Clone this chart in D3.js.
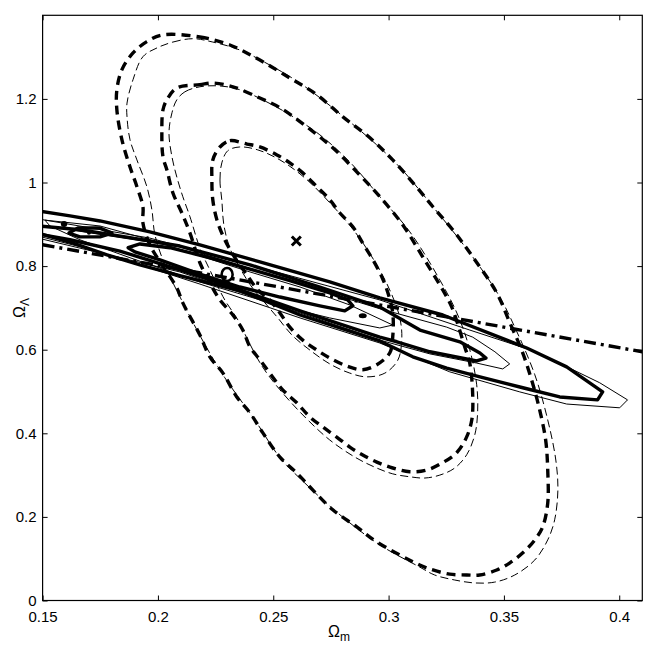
<!DOCTYPE html>
<html><head><meta charset="utf-8">
<script src="https://cdn.jsdelivr.net/npm/d3@7"></script>
<style>body{margin:0;background:#fff}svg{display:block}text{font-family:"Liberation Sans",Arial,Helvetica,sans-serif}</style>
</head><body><svg id="c" width="648" height="648"></svg>
<script>
// ---- data (Omega_m, Omega_Lambda) ----
const xTicks = [0.15, 0.2, 0.25, 0.3, 0.35, 0.4];
const yTicks = [0, 0.2, 0.4, 0.6, 0.8, 1, 1.2];
const xTickLabels = ["0.15","0.2","0.25","0.3","0.35","0.4"];
const yTickLabels = ["0","0.2","0.4","0.6","0.8","1","1.2"];

// dashed contours (thick)
const dashOuterThick = [[0.202,1.353],[0.2182,1.348],[0.2312,1.329],[0.2442,1.293],[0.2572,1.250],[0.2689,1.210],[0.2802,1.157],[0.2919,1.107],[0.3018,1.054],[0.3114,0.994],[0.3192,0.942],[0.3278,0.887],[0.3365,0.822],[0.3469,0.736],[0.3526,0.664],[0.3577,0.599],[0.3620,0.528],[0.3655,0.456],[0.3681,0.384],[0.3690,0.312],[0.3690,0.233],[0.3668,0.176],[0.3634,0.145],[0.3582,0.114],[0.3526,0.090],[0.3469,0.073],[0.3395,0.061],[0.3339,0.061],[0.3265,0.063],[0.3192,0.073],[0.3135,0.085],[0.2949,0.140],[0.2862,0.176],[0.2758,0.217],[0.2672,0.264],[0.2602,0.305],[0.2529,0.343],[0.2455,0.401],[0.2399,0.449],[0.2342,0.487],[0.2282,0.544],[0.2225,0.583],[0.2182,0.635],[0.2108,0.712],[0.2082,0.748],[0.2009,0.810],[0.1965,0.851],[0.1935,0.903],[0.1935,0.942],[0.1909,0.990],[0.1879,1.037],[0.1844,1.102],[0.1822,1.174],[0.1822,1.222],[0.1844,1.270],[0.1892,1.310],[0.1952,1.337]];
const dashMidThick = [[0.2082,1.226],[0.2182,1.234],[0.2238,1.238],[0.2325,1.229],[0.2442,1.202],[0.2529,1.179],[0.2646,1.133],[0.2758,1.083],[0.2875,1.018],[0.2962,0.966],[0.3061,0.899],[0.3148,0.822],[0.3235,0.743],[0.3274,0.702],[0.3308,0.647],[0.3330,0.607],[0.3352,0.568],[0.3365,0.487],[0.3361,0.433],[0.3339,0.392],[0.3296,0.354],[0.3235,0.330],[0.3165,0.312],[0.3092,0.308],[0.3018,0.317],[0.2949,0.331],[0.2888,0.348],[0.2832,0.367],[0.2775,0.391],[0.2715,0.415],[0.2659,0.439],[0.2602,0.473],[0.2541,0.504],[0.2485,0.544],[0.2442,0.576],[0.2399,0.607],[0.2368,0.647],[0.2325,0.683],[0.2269,0.719],[0.2225,0.760],[0.2182,0.808],[0.2139,0.879],[0.2104,0.927],[0.2065,0.975],[0.2039,1.030],[0.2022,1.061],[0.2017,1.119],[0.2022,1.174],[0.2039,1.198]];
const dashInnerThick = [[0.2269,1.085],[0.2312,1.100],[0.2386,1.092],[0.2442,1.085],[0.2516,1.066],[0.2572,1.047],[0.2628,1.023],[0.2689,0.990],[0.2746,0.958],[0.2789,0.927],[0.2845,0.894],[0.2888,0.855],[0.2932,0.815],[0.2971,0.774],[0.2997,0.736],[0.3018,0.688],[0.3018,0.631],[0.3005,0.592],[0.2949,0.564],[0.2888,0.552],[0.2819,0.561],[0.2746,0.580],[0.2689,0.599],[0.2628,0.623],[0.2572,0.654],[0.2529,0.688],[0.2485,0.719],[0.2433,0.743],[0.2386,0.779],[0.2334,0.820],[0.2290,0.863],[0.2256,0.910],[0.2238,0.958],[0.2234,1.006],[0.2238,1.054]];
// dashed contours (thin)
const dashOuterThin = [[0.1996,1.322],[0.2065,1.336],[0.2152,1.344],[0.2238,1.336],[0.2355,1.317],[0.2485,1.281],[0.2615,1.238],[0.2810,1.155],[0.3027,1.049],[0.3200,0.937],[0.3374,0.815],[0.3482,0.726],[0.3547,0.654],[0.3634,0.540],[0.3690,0.432],[0.3725,0.336],[0.3734,0.265],[0.3720,0.193],[0.3690,0.145],[0.3634,0.097],[0.3547,0.061],[0.3460,0.044],[0.3374,0.042],[0.3287,0.049],[0.3200,0.061],[0.3135,0.080],[0.2962,0.133],[0.2789,0.205],[0.2637,0.281],[0.2529,0.342],[0.2420,0.432],[0.2290,0.533],[0.2204,0.612],[0.2117,0.703],[0.2030,0.803],[0.1987,0.875],[0.1974,0.934],[0.1952,0.990],[0.1909,1.054],[0.1879,1.102],[0.1866,1.157],[0.1866,1.190],[0.1892,1.246],[0.1935,1.301]];
const dashMidThin = [[0.2082,1.198],[0.2117,1.217],[0.2182,1.229],[0.2269,1.231],[0.2355,1.222],[0.2464,1.195],[0.2572,1.162],[0.2702,1.114],[0.2832,1.049],[0.2962,0.966],[0.3092,0.882],[0.3222,0.767],[0.3300,0.683],[0.3352,0.600],[0.3382,0.516],[0.3386,0.450],[0.3374,0.397],[0.3339,0.349],[0.3287,0.317],[0.3222,0.300],[0.3157,0.293],[0.3092,0.296],[0.3018,0.303],[0.2940,0.319],[0.2854,0.343],[0.2745,0.384],[0.2637,0.439],[0.2529,0.504],[0.2451,0.561],[0.2390,0.623],[0.2347,0.671],[0.2290,0.719],[0.2225,0.791],[0.2182,0.843],[0.2139,0.918],[0.2108,0.966],[0.2082,1.013],[0.2061,1.061],[0.2048,1.119],[0.2061,1.167]];
const dashInnerThin = [[0.2277,0.958],[0.2269,1.006],[0.2277,1.047],[0.2303,1.076],[0.2355,1.085],[0.2433,1.078],[0.2529,1.054],[0.2637,1.011],[0.2746,0.951],[0.2854,0.882],[0.2941,0.810],[0.3005,0.743],[0.3049,0.676],[0.3057,0.623],[0.3040,0.575],[0.2984,0.544],[0.2906,0.535],[0.2832,0.544],[0.2745,0.566],[0.2659,0.599],[0.2581,0.635],[0.2520,0.676],[0.2464,0.712],[0.2407,0.750],[0.2355,0.796],[0.2312,0.843],[0.2286,0.898]];

// solid degeneracy contours (thick)
const solidOuterThick = [[0.1480,0.932],[0.1619,0.920],[0.1749,0.908],[0.1965,0.882],[0.2182,0.851],[0.2442,0.810],[0.2745,0.762],[0.2962,0.724],[0.3235,0.683],[0.3599,0.604],[0.3772,0.559],[0.3928,0.499],[0.3906,0.480],[0.3742,0.487],[0.3582,0.509],[0.3396,0.535],[0.3252,0.556],[0.3105,0.583],[0.2962,0.621],[0.2616,0.683],[0.2356,0.741],[0.2095,0.777],[0.1922,0.803],[0.1779,0.827],[0.1632,0.855],[0.1480,0.879]];
const solidMidThick = [[0.1480,0.896],[0.1662,0.887],[0.1879,0.868],[0.2095,0.848],[0.2399,0.803],[0.2702,0.750],[0.2962,0.702],[0.3136,0.647],[0.3309,0.619],[0.3396,0.592],[0.3422,0.580],[0.3382,0.573],[0.3179,0.595],[0.3036,0.619],[0.2962,0.630],[0.2616,0.693],[0.2356,0.743],[0.2095,0.791],[0.1835,0.836],[0.1619,0.863],[0.1480,0.877]];
const solidInnerThick = [[0.1871,0.844],[0.1922,0.853],[0.2052,0.844],[0.2226,0.820],[0.2399,0.793],[0.2572,0.765],[0.2745,0.736],[0.2823,0.719],[0.2845,0.705],[0.2810,0.693],[0.2702,0.705],[0.2529,0.726],[0.2355,0.750],[0.2182,0.781],[0.2009,0.815],[0.1900,0.834]];
const solidIslandThick = [[0.1614,0.879],[0.1653,0.891],[0.1749,0.891],[0.1801,0.879],[0.1749,0.870],[0.1662,0.870]];
// solid degeneracy contours (thin)
const solidOuterThin = [[0.1480,0.913],[0.1965,0.867],[0.2399,0.803],[0.2962,0.719],[0.3352,0.647],[0.3612,0.600],[0.3755,0.564],[0.3915,0.521],[0.4036,0.480],[0.4002,0.461],[0.3772,0.470],[0.3569,0.499],[0.3265,0.547],[0.2962,0.616],[0.2616,0.676],[0.2182,0.757],[0.1749,0.834],[0.1480,0.872]];
const solidMidThin = [[0.1480,0.899],[0.2095,0.846],[0.2962,0.698],[0.3252,0.654],[0.3365,0.630],[0.3461,0.595],[0.3525,0.566],[0.3495,0.554],[0.3382,0.568],[0.3179,0.590],[0.2962,0.623],[0.2095,0.786],[0.1480,0.867]];
const solidInnerThin = [[0.1510,0.910],[0.1749,0.896],[0.1965,0.863],[0.2399,0.786],[0.2616,0.750],[0.2832,0.707],[0.3018,0.659],[0.2962,0.652],[0.2745,0.676],[0.2529,0.705],[0.2182,0.762],[0.1879,0.820],[0.1662,0.863],[0.1532,0.896]];
// small filled islands
const dots = [[0.1593,0.901,3.2,3],[0.1701,0.879,2,1.6],[0.2888,0.681,4,2.5]];

// dash-dot line
const dashDotLine = [[0.15,0.851],[0.41,0.595]];
// markers
const crossPoint = [0.26, 0.86];
const circlePoint = [0.23, 0.78];

// ---- drawing ----
const L = 42.6, R = 642.3, T = 15.3, B = 600.5;
const svg = d3.select("#c");
const x = d3.scaleLinear().domain([0.15, 0.41]).range([L, R]);
const y = d3.scaleLinear().domain([0, 1.4]).range([B, T]);

svg.append("defs").append("clipPath").attr("id","clip")
  .append("rect").attr("x",L).attr("y",T).attr("width",R-L).attr("height",B-T);
const g = svg.append("g").attr("clip-path","url(#clip)");

const smooth = d3.line().x(d=>x(d[0])).y(d=>y(d[1])).curve(d3.curveCatmullRomClosed.alpha(0.5));
const poly = d3.line().x(d=>x(d[0])).y(d=>y(d[1])).curve(d3.curveLinearClosed);
const straight = d3.line().x(d=>x(d[0])).y(d=>y(d[1]));

function draw(data, gen, w, dash){
  g.append("path").attr("d", gen(data)).attr("fill","none").attr("stroke","#000")
   .attr("stroke-width", w).attr("stroke-linejoin","round").attr("stroke-dasharray", dash||null);
}
// thin dashed
[dashOuterThin, dashMidThin, dashInnerThin].forEach(d=>draw(d, smooth, 1, "8,4"));
// thick dashed
[dashOuterThick, dashMidThick, dashInnerThick].forEach(d=>draw(d, smooth, 3.4, "9,6"));
// thin solid
[solidOuterThin, solidMidThin, solidInnerThin].forEach(d=>draw(d, poly, 1));
// thick solid
[solidOuterThick, solidMidThick, solidInnerThick, solidIslandThick].forEach(d=>draw(d, poly, 3.4));
g.selectAll("ellipse.dot").data(dots).enter().append("ellipse").attr("class","dot")
  .attr("cx",d=>x(d[0])).attr("cy",d=>y(d[1])).attr("rx",d=>d[2]).attr("ry",d=>d[3]).attr("fill","#000");
// dash-dot
g.append("path").attr("d", straight(dashDotLine)).attr("fill","none").attr("stroke","#000")
  .attr("stroke-width",3.4).attr("stroke-dasharray","12,5,3,5");
// cross marker
const cx = x(crossPoint[0]), cy = y(crossPoint[1]);
g.append("path").attr("d",`M${cx-4.5},${cy-4.5}L${cx+4.5},${cy+4.5}M${cx-4.5},${cy+4.5}L${cx+4.5},${cy-4.5}`)
  .attr("stroke","#000").attr("stroke-width",3);
// circle marker
g.append("ellipse").attr("cx",x(circlePoint[0])).attr("cy",y(circlePoint[1])).attr("rx",5.5).attr("ry",6.5)
  .attr("fill","none").attr("stroke","#000").attr("stroke-width",2.6);

// ---- axes / frame ----
svg.append("rect").attr("x",L).attr("y",T).attr("width",R-L).attr("height",B-T)
  .attr("fill","none").attr("stroke","#000").attr("stroke-width",1.2);
const tk = 5;
const axB = svg.append("g").attr("transform",`translate(0,${B})`)
  .call(d3.axisBottom(x).tickValues(xTicks).tickSize(-tk).tickPadding(8).tickFormat((d,i)=>xTickLabels[i]));
const axT = svg.append("g").attr("transform",`translate(0,${T})`)
  .call(d3.axisTop(x).tickValues(xTicks).tickSize(-tk).tickFormat(""));
const axL = svg.append("g").attr("transform",`translate(${L},0)`)
  .call(d3.axisLeft(y).tickValues(yTicks).tickSize(-tk).tickPadding(6).tickFormat((d,i)=>yTickLabels[i]));
const axR = svg.append("g").attr("transform",`translate(${R},0)`)
  .call(d3.axisRight(y).tickValues(yTicks).tickSize(-tk).tickFormat(""));
[axB,axT,axL,axR].forEach(a=>{a.select(".domain").remove(); a.selectAll("line").attr("stroke","#000").attr("stroke-width",1);
  a.selectAll("text").attr("font-size",15).attr("fill","#000").attr("font-family","'Liberation Sans',Arial,sans-serif");});
axB.selectAll("text").attr("dy","0.9em");

// axis labels
const xl = svg.append("text").attr("x",339).attr("y",637).attr("font-size",16).attr("text-anchor","middle");
xl.append("tspan").text("Ω");
xl.append("tspan").attr("font-size",12).attr("dy",4).text("m");
const yl = svg.append("text").attr("transform","translate(25,308) rotate(-90)").attr("font-size",16).attr("text-anchor","middle");
yl.append("tspan").text("Ω");
yl.append("tspan").attr("font-size",12).attr("dy",4).text("Λ");
</script></body></html>
